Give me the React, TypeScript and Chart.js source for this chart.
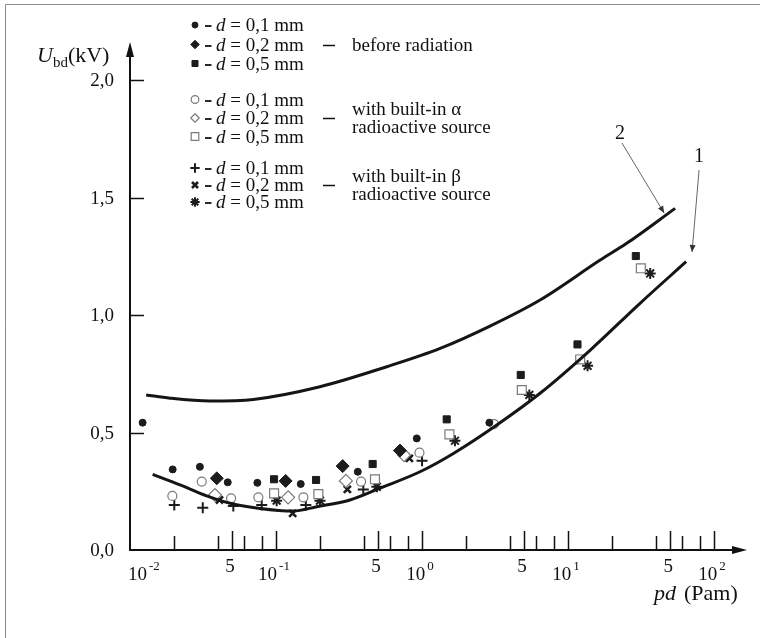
import React, { useEffect, useRef } from 'react';
import { Chart, registerables } from 'chart.js';

Chart.register(...registerables);

const FONT = '"Liberation Serif", "Times New Roman", serif';

// ---- data (pd in Pa·m, U in kV) ----
const filledCircleX = [0.0122, 0.0196, 0.0301, 0.0467, 0.0745, 0.1476, 0.363, 0.92, 2.89];
const filledCircleY = [0.542, 0.343, 0.354, 0.288, 0.286, 0.281, 0.333, 0.475, 0.542];
const filledDiamondX = [0.0393, 0.1164, 0.286, 0.706];
const filledDiamondY = [0.305, 0.294, 0.357, 0.423];
const filledSquareX = [0.0969, 0.188, 0.459, 1.475, 4.74, 11.6, 29.1];
const filledSquareY = [0.301, 0.298, 0.366, 0.556, 0.745, 0.875, 1.251];

const openCircleX = [0.0195, 0.031, 0.0492, 0.0757, 0.154, 0.382, 0.96, 3.11];
const openCircleY = [0.230, 0.291, 0.220, 0.224, 0.224, 0.291, 0.414, 0.536];
const openDiamondX = [0.0382, 0.121, 0.301, 0.753];
const openDiamondY = [0.234, 0.224, 0.294, 0.404];
const openSquareX = [0.097, 0.195, 0.476, 1.54, 4.82, 12.1, 31.5];
const openSquareY = [0.241, 0.238, 0.301, 0.492, 0.681, 0.811, 1.199];

const plusX = [0.0201, 0.0315, 0.051, 0.0798, 0.160, 0.396, 1.0];
const plusY = [0.191, 0.180, 0.187, 0.191, 0.191, 0.258, 0.380];
const crossX = [0.041, 0.13, 0.308, 0.819];
const crossY = [0.213, 0.156, 0.258, 0.390];
const starX = [0.101, 0.2, 0.49, 1.68, 5.43, 13.6, 36.5];
const starY = [0.210, 0.210, 0.269, 0.465, 0.660, 0.784, 1.177];

const curve1X = [0.01429, 0.022, 0.0335, 0.0484, 0.0776, 0.131, 0.19, 0.321, 0.515, 0.968, 1.64, 3.25, 6.43, 14.2, 31.1, 64.3];
const curve1Y = [0.322, 0.277, 0.230, 0.199, 0.177, 0.166, 0.184, 0.213, 0.263, 0.333, 0.411, 0.532, 0.667, 0.851, 1.050, 1.227];
const curve2X = [0.0129, 0.0188, 0.0353, 0.070, 0.200, 0.573, 1.33, 2.92, 6.43, 16.6, 25.2, 54.1];
const curve2Y = [0.660, 0.646, 0.634, 0.641, 0.695, 0.780, 0.858, 0.953, 1.064, 1.234, 1.305, 1.454];

// ---- axes / labels ----
const yTickValues = [0, 0.5, 1, 1.5, 2];
const yTickLabels = ['0,0', '0,5', '1,0', '1,5', '2,0'];
const xDecadeValues = [0.01, 0.1, 1, 10, 100];
const xDecadeExponents = ['-2', '-1', '0', '1', '2'];
const xFiveValues = [0.05, 0.5, 5, 50];
const xFiveLabels = ['5', '5', '5', '5'];
const xMinorValues = [0.02, 0.04, 0.06, 0.08, 0.2, 0.4, 0.6, 0.8, 2, 4, 6, 8, 20, 40, 60, 80];
const xMin = 0.01;
const xMax = 168;
const yMin = 0;
const yMax = 2.162;

const legendLabels = ['0,1', '0,2', '0,5'];
const groupTexts = [['before radiation'], ['with built-in α', 'radioactive source'], ['with built-in β', 'radioactive source']];
const curveLabels = ['1', '2'];
// annotation anchors in data units: [labelX, labelY, fromX, fromY, toX, toY]
const curveLabelAnchors = [
  [78.9, 1.681, 78.9, 1.617, 70.6, 1.268],
  [22.7, 1.779, 23.4, 1.732, 45.5, 1.434],
];

const DARK = '#1c1c1c';
const GRAY = '#7a7a7a';

type MarkerStyle = { pointStyle: string; radius: number; fill: string; stroke: string; lineWidth: number };

const markerStyles: MarkerStyle[][] = [
  [
    { pointStyle: 'circle', radius: 3.5, fill: DARK, stroke: DARK, lineWidth: 1 },
    { pointStyle: 'rectRot', radius: 6.5, fill: DARK, stroke: DARK, lineWidth: 1 },
    { pointStyle: 'rect', radius: 5, fill: DARK, stroke: DARK, lineWidth: 1 },
  ],
  [
    { pointStyle: 'circle', radius: 4.5, fill: '#ffffff', stroke: GRAY, lineWidth: 1.2 },
    { pointStyle: 'rectRot', radius: 6.5, fill: '#ffffff', stroke: GRAY, lineWidth: 1.2 },
    { pointStyle: 'rect', radius: 6.3, fill: '#ffffff', stroke: GRAY, lineWidth: 1.2 },
  ],
  [
    { pointStyle: 'cross', radius: 5.5, fill: DARK, stroke: DARK, lineWidth: 2 },
    { pointStyle: 'crossRot', radius: 5, fill: DARK, stroke: DARK, lineWidth: 2.6 },
    { pointStyle: 'star', radius: 5.5, fill: DARK, stroke: DARK, lineWidth: 2 },
  ],
];

const seriesData: [number[], number[]][][] = [
  [[filledCircleX, filledCircleY], [filledDiamondX, filledDiamondY], [filledSquareX, filledSquareY]],
  [[openCircleX, openCircleY], [openDiamondX, openDiamondY], [openSquareX, openSquareY]],
  [[plusX, plusY], [crossX, crossY], [starX, starY]],
];

function toPoints(xs: number[], ys: number[]) {
  return xs.map((x, i) => ({ x, y: ys[i] }));
}

function drawMarker(ctx: CanvasRenderingContext2D, s: MarkerStyle, x: number, y: number) {
  const r = s.radius;
  ctx.save();
  ctx.lineWidth = s.lineWidth;
  ctx.strokeStyle = s.stroke;
  ctx.fillStyle = s.fill;
  ctx.beginPath();
  let closed = true;
  switch (s.pointStyle) {
    case 'circle':
      ctx.arc(x, y, r, 0, Math.PI * 2);
      break;
    case 'rect': {
      const h = r * Math.SQRT1_2;
      ctx.rect(x - h, y - h, 2 * h, 2 * h);
      break;
    }
    case 'rectRot':
      ctx.moveTo(x, y - r);
      ctx.lineTo(x + r, y);
      ctx.lineTo(x, y + r);
      ctx.lineTo(x - r, y);
      ctx.closePath();
      break;
    case 'cross':
      closed = false;
      ctx.moveTo(x - r, y); ctx.lineTo(x + r, y);
      ctx.moveTo(x, y - r); ctx.lineTo(x, y + r);
      break;
    case 'crossRot': {
      closed = false;
      const d = r * Math.SQRT1_2;
      ctx.moveTo(x - d, y - d); ctx.lineTo(x + d, y + d);
      ctx.moveTo(x + d, y - d); ctx.lineTo(x - d, y + d);
      break;
    }
    case 'star': {
      closed = false;
      const d = r * Math.SQRT1_2;
      ctx.moveTo(x - r, y); ctx.lineTo(x + r, y);
      ctx.moveTo(x, y - r); ctx.lineTo(x, y + r);
      ctx.moveTo(x - d, y - d); ctx.lineTo(x + d, y + d);
      ctx.moveTo(x + d, y - d); ctx.lineTo(x - d, y + d);
      break;
    }
  }
  if (closed) ctx.fill();
  ctx.stroke();
  ctx.restore();
}

const decorPlugin = {
  id: 'decor',
  beforeDraw(chart: any) {
    const ctx: CanvasRenderingContext2D = chart.ctx;
    ctx.save();
    ctx.fillStyle = '#ffffff';
    ctx.fillRect(0, 0, chart.width, chart.height);
    // frame (top & left visible)
    ctx.strokeStyle = '#8a8a8a';
    ctx.lineWidth = 1;
    ctx.beginPath();
    ctx.moveTo(5.5, chart.height);
    ctx.lineTo(5.5, 4.5);
    ctx.lineTo(chart.width, 4.5);
    ctx.stroke();
    ctx.restore();
  },
  beforeDatasetsDraw(chart: any) {
    const ctx: CanvasRenderingContext2D = chart.ctx;
    const xs = chart.scales.x;
    const ys = chart.scales.y;
    const x0 = xs.getPixelForValue(xMin);
    const xEnd = xs.getPixelForValue(xMax);
    const y0 = ys.getPixelForValue(0);
    const yEnd = ys.getPixelForValue(yMax);
    ctx.save();
    ctx.strokeStyle = '#111';
    ctx.fillStyle = '#111';
    ctx.lineWidth = 2;
    // y axis
    ctx.beginPath();
    ctx.moveTo(x0, y0 + 1);
    ctx.lineTo(x0, yEnd + 10);
    ctx.stroke();
    ctx.beginPath();
    ctx.moveTo(x0, yEnd);
    ctx.lineTo(x0 - 4, yEnd + 15);
    ctx.lineTo(x0 + 4, yEnd + 15);
    ctx.closePath();
    ctx.fill();
    // x axis
    ctx.beginPath();
    ctx.moveTo(x0 - 1, y0);
    ctx.lineTo(xEnd - 10, y0);
    ctx.stroke();
    ctx.beginPath();
    ctx.moveTo(xEnd, y0);
    ctx.lineTo(xEnd - 15, y0 - 4);
    ctx.lineTo(xEnd - 15, y0 + 4);
    ctx.closePath();
    ctx.fill();
    // y ticks
    ctx.lineWidth = 1.5;
    yTickValues.forEach((v) => {
      if (v === 0) return;
      const py = Math.round(ys.getPixelForValue(v)) + 0.5;
      ctx.beginPath();
      ctx.moveTo(x0, py);
      ctx.lineTo(x0 + 14, py);
      ctx.stroke();
    });
    // x ticks (upward)
    const tick = (v: number, len: number) => {
      const px = Math.round(xs.getPixelForValue(v)) + 0.5;
      ctx.beginPath();
      ctx.moveTo(px, y0);
      ctx.lineTo(px, y0 - len);
      ctx.stroke();
    };
    xMinorValues.forEach((v) => tick(v, 14));
    xFiveValues.forEach((v) => tick(v, 19));
    xDecadeValues.forEach((v) => { if (v > xMin) tick(v, 19); });
    ctx.restore();
  },
  afterDraw(chart: any) {
    const ctx: CanvasRenderingContext2D = chart.ctx;
    const xs = chart.scales.x;
    const ys = chart.scales.y;
    const x0 = xs.getPixelForValue(xMin);
    const y0 = ys.getPixelForValue(0);
    ctx.save();
    ctx.fillStyle = '#111';
    ctx.textBaseline = 'alphabetic';
    // y tick labels
    ctx.font = `19px ${FONT}`;
    ctx.textAlign = 'right';
    yTickValues.forEach((v, i) => {
      ctx.fillText(yTickLabels[i], x0 - 16, ys.getPixelForValue(v) + 6);
    });
    // x tick labels
    xDecadeValues.forEach((v, i) => {
      const px = xs.getPixelForValue(v);
      ctx.font = `19px ${FONT}`;
      const wBase = ctx.measureText('10').width;
      ctx.font = `13px ${FONT}`;
      const wExp = ctx.measureText(xDecadeExponents[i]).width;
      const total = wBase + 2 + wExp;
      const left = i === 0 ? px - 2 : px - total / 2 - 2;
      ctx.textAlign = 'left';
      ctx.font = `19px ${FONT}`;
      ctx.fillText('10', left, y0 + 30);
      ctx.font = `13px ${FONT}`;
      ctx.fillText(xDecadeExponents[i], left + wBase + 2, y0 + 20);
    });
    ctx.font = `19px ${FONT}`;
    ctx.textAlign = 'center';
    xFiveValues.forEach((v, i) => {
      ctx.fillText(xFiveLabels[i], xs.getPixelForValue(v) - 2, y0 + 22);
    });
    // axis titles
    ctx.textAlign = 'left';
    ctx.font = `italic 22px ${FONT}`;
    ctx.fillText('U', 37, 62);
    let wx = 37 + ctx.measureText('U').width;
    ctx.font = `15px ${FONT}`;
    ctx.fillText('bd', wx, 67);
    wx += ctx.measureText('bd').width;
    ctx.font = `22px ${FONT}`;
    ctx.fillText('(kV)', wx, 62);

    ctx.font = `italic 22px ${FONT}`;
    ctx.fillText('pd', 654, 600);
    const px2 = 654 + ctx.measureText('pd').width + 8;
    ctx.font = `22px ${FONT}`;
    ctx.fillText('(Pam)', px2, 600);

    // legend
    const rowYs = [[25, 44.5, 63.5], [99.5, 118, 136.5], [168, 185, 202]];
    markerStyles.forEach((group, g) => {
      group.forEach((st, r) => {
        const cy = rowYs[g][r];
        drawMarker(ctx, { ...st, radius: Math.min(st.radius, st.pointStyle === 'rectRot' ? 5 : st.radius) * 0.85 }, 195, cy);
        ctx.strokeStyle = '#111';
        ctx.lineWidth = 1.8;
        ctx.beginPath();
        ctx.moveTo(205, Math.round(cy) + 1);
        ctx.lineTo(211.5, Math.round(cy) + 1);
        ctx.stroke();
        ctx.fillStyle = '#111';
        ctx.textAlign = 'left';
        ctx.font = `italic 19px ${FONT}`;
        ctx.fillText('d', 216, cy + 6);
        const wd = ctx.measureText('d').width;
        ctx.font = `19px ${FONT}`;
        ctx.fillText(` = ${legendLabels[r]} mm`, 216 + wd, cy + 6);
      });
      const midY = rowYs[g][1];
      ctx.strokeStyle = '#111';
      ctx.lineWidth = 1.5;
      ctx.beginPath();
      ctx.moveTo(323, Math.round(midY) + 0.5);
      ctx.lineTo(335, Math.round(midY) + 0.5);
      ctx.stroke();
      const lines = groupTexts[g];
      ctx.font = `19px ${FONT}`;
      lines.forEach((t, k) => {
        const cy = lines.length === 1 ? midY : midY - 9 + k * 18;
        ctx.fillText(t, 352, cy + 6);
      });
    });

    // curve labels with arrows
    curveLabels.forEach((lab, i) => {
      const a = curveLabelAnchors[i];
      const lx = xs.getPixelForValue(a[0]);
      const ly = ys.getPixelForValue(a[1]);
      const fx = xs.getPixelForValue(a[2]);
      const fy = ys.getPixelForValue(a[3]);
      const tx = xs.getPixelForValue(a[4]);
      const ty = ys.getPixelForValue(a[5]);
      ctx.font = `20px ${FONT}`;
      ctx.textAlign = 'center';
      ctx.fillStyle = '#111';
      ctx.fillText(lab, lx, ly + 7);
      ctx.strokeStyle = '#555';
      ctx.lineWidth = 0.9;
      ctx.beginPath();
      ctx.moveTo(fx, fy);
      ctx.lineTo(tx, ty);
      ctx.stroke();
      const ang = Math.atan2(ty - fy, tx - fx);
      ctx.fillStyle = '#333';
      ctx.beginPath();
      ctx.moveTo(tx, ty);
      ctx.lineTo(tx - 7 * Math.cos(ang) + 3 * Math.sin(ang), ty - 7 * Math.sin(ang) - 3 * Math.cos(ang));
      ctx.lineTo(tx - 7 * Math.cos(ang) - 3 * Math.sin(ang), ty - 7 * Math.sin(ang) + 3 * Math.cos(ang));
      ctx.closePath();
      ctx.fill();
    });
    ctx.restore();
  },
};

export default function App() {
  const canvasRef = useRef<HTMLCanvasElement | null>(null);

  useEffect(() => {
    if (!canvasRef.current) return;
    const datasets: any[] = [
      {
        label: 'curve 1',
        data: toPoints(curve1X, curve1Y),
        showLine: true,
        borderColor: '#151515',
        borderWidth: 3,
        pointRadius: 0,
        cubicInterpolationMode: 'monotone',
        fill: false,
      },
      {
        label: 'curve 2',
        data: toPoints(curve2X, curve2Y),
        showLine: true,
        borderColor: '#151515',
        borderWidth: 3,
        pointRadius: 0,
        cubicInterpolationMode: 'monotone',
        fill: false,
      },
    ];
    markerStyles.forEach((group, g) => {
      group.forEach((st, r) => {
        const [xsArr, ysArr] = seriesData[g][r];
        datasets.push({
          label: `g${g} d${r}`,
          data: toPoints(xsArr, ysArr),
          showLine: false,
          pointStyle: st.pointStyle,
          pointRadius: st.radius,
          pointBackgroundColor: st.fill,
          pointBorderColor: st.stroke,
          pointBorderWidth: st.lineWidth,
        });
      });
    });

    const chart = new Chart(canvasRef.current, {
      type: 'scatter',
      data: { datasets },
      options: {
        responsive: false,
        animation: false,
        events: [],
        layout: { padding: { left: 130, right: 13, top: 42, bottom: 88 } },
        plugins: { legend: { display: false }, tooltip: { enabled: false } },
        scales: {
          x: { type: 'logarithmic', min: xMin, max: xMax, display: false },
          y: { type: 'linear', min: yMin, max: yMax, display: false },
        },
      },
      plugins: [decorPlugin],
    });
    return () => chart.destroy();
  }, []);

  return (
    <div style={{ position: 'fixed', left: 0, top: 0, width: 760, height: 638, background: '#fff' }}>
      <canvas ref={canvasRef} width={760} height={638} style={{ display: 'block', width: 760, height: 638 }} />
    </div>
  );
}
